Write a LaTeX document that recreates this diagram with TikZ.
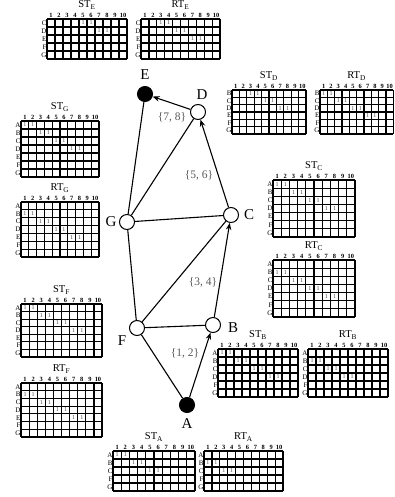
\documentclass[tikz,border=0pt]{standalone}
\usepackage{fontspec}
\setmainfont{Liberation Serif}
\usetikzlibrary{arrows.meta}
\tikzset{
 vtx/.style={circle, draw, line width=1pt, minimum size=15pt, inner sep=0pt, fill=white},
 vfill/.style={vtx, fill=black},
 vlab/.style={font=\fontsize{15}{15}\selectfont, inner sep=0pt},
 elab/.style={font=\fontsize{11.5}{11.5}\selectfont, text=black!65, inner sep=0pt},
 edge/.style={line width=1.1pt},
 arr/.style={edge, -{Stealth[length=7pt,width=5.5pt]}},
 tabtitle/.style={font=\fontsize{10.5}{10.5}\selectfont, inner sep=0pt},
 colnum/.style={font=\bfseries\fontsize{6.4}{6.4}\selectfont, inner sep=0pt},
 rowlab/.style={font=\fontsize{7}{7}\selectfont, inner sep=0pt, anchor=east},
 onemark/.style={font=\fontsize{6}{6}\selectfont, text=black!70, inner sep=0pt},
 gridline/.style={line width=1.2pt},
}
% #1 name, #2 left, #3 top, #4 right, #5 bottom, #6 rows, #7 row list, #8 title
\newcommand{\gridtab}[8]{%
  \pgfmathsetmacro\tcw{(#4-#2)/10}%
  \pgfmathsetmacro\tch{(#5-#3)/#6}%
  \node[tabtitle] (#1-title) at ({(#2+#4)/2},{#3-14}) {#8};
  \foreach \cc in {1,...,10} {\node[colnum] (#1-c\cc) at ({#2+(\cc-0.5)*\tcw},{#3-4}) {\cc};}
  \foreach \rr/\ss [count=\ii] in {#7} {
     \node[rowlab] (#1-r\ii) at ({#2-0.3},{#3+(\ii-0.5)*\tch}) {\rr};
     \ifnum\ss>0
       \node[onemark] (#1-m\ii-a) at ({#2+(\ss-0.5)*\tcw},{#3+(\ii-0.5)*\tch}) {1};
       \node[onemark] (#1-m\ii-b) at ({#2+(\ss+0.5)*\tcw},{#3+(\ii-0.5)*\tch}) {1};
     \fi
  }
  \foreach \cc in {0,...,10} {\draw[gridline] ({#2+\cc*\tcw},#3) -- ({#2+\cc*\tcw},#5);}
  \foreach \cc in {0,...,#6} {\draw[gridline] (#2,{#3+\cc*\tch}) -- (#4,{#3+\cc*\tch});}
}
\begin{document}
\begin{tikzpicture}[x=1pt,y=-1pt]
\useasboundingbox (0,0) rectangle (394,497);
% tables
\gridtab{STE}{47}{19}{127}{59}{5}{C/5,D/7,E/0,F/0,G/0}{ST\textsubscript{E}}
\gridtab{RTE}{141}{19}{220}{59}{5}{C/3,D/5,E/7,F/0,G/0}{RT\textsubscript{E}}
\gridtab{STD}{232}{90}{306}{134}{6}{B/3,C/5,D/7,E/0,F/0,G/0}{ST\textsubscript{D}}
\gridtab{RTD}{320}{90}{393.3}{134}{6}{B/1,C/3,D/5,E/7,F/0,G/0}{RT\textsubscript{D}}
\gridtab{STG}{21}{121}{99}{177}{7}{A/1,B/3,C/5,D/7,E/0,F/0,G/0}{ST\textsubscript{G}}
\gridtab{RTG}{21}{202}{99}{257}{7}{A/0,B/1,C/3,D/5,E/7,F/0,G/0}{RT\textsubscript{G}}
\gridtab{STC}{273}{180}{355}{237}{7}{A/1,B/3,C/5,D/7,E/0,F/0,G/0}{ST\textsubscript{C}}
\gridtab{RTC}{273}{260}{355}{317}{7}{A/0,B/1,C/3,D/5,E/7,F/0,G/0}{RT\textsubscript{C}}
\gridtab{STF}{21}{304}{102}{357}{7}{A/1,B/3,C/5,D/7,E/0,F/0,G/0}{ST\textsubscript{F}}
\gridtab{RTF}{21}{383}{102}{437}{7}{A/0,B/1,C/3,D/5,E/7,F/0,G/0}{RT\textsubscript{F}}
\gridtab{STB}{218}{349}{298}{397}{6}{A/1,B/3,C/5,D/7,F/0,G/0}{ST\textsubscript{B}}
\gridtab{RTB}{308}{349}{388}{397}{6}{A/0,B/1,C/3,D/5,F/0,G/0}{RT\textsubscript{B}}
\gridtab{STA}{113}{451}{195}{491}{5}{A/1,B/3,C/5,F/0,G/0}{ST\textsubscript{A}}
\gridtab{RTA}{204}{451}{283}{491}{5}{A/0,B/1,C/3,F/0,G/0}{RT\textsubscript{A}}
% vertices
\node[vfill] (E) at (145,94) {};
\node[vtx] (D) at (198,112) {};
\node[vtx] (G) at (127,222) {};
\node[vtx] (C) at (231,215) {};
\node[vtx] (F) at (137,328) {};
\node[vtx] (B) at (213,325) {};
\node[vfill] (A) at (187,405) {};
% vertex labels
\node[vlab] (lE) at (145,75) {E};
\node[vlab] (lD) at (202,95) {D};
\node[vlab] (lG) at (111,222) {G};
\node[vlab] (lC) at (249,215) {C};
\node[vlab] (lF) at (122,341) {F};
\node[vlab] (lB) at (233,328) {B};
\node[vlab] (lA) at (187,424) {A};
% edges
\draw[edge] (G) -- (E);
\draw[arr] (D) -- (E);
\draw[edge] (G) -- (D);
\draw[edge] (G) -- (C);
\draw[arr] (C) -- (D);
\draw[edge] (F) -- (G);
\draw[edge] (F) -- (C);
\draw[edge] (F) -- (B);
\draw[arr] (B) -- (C);
\draw[edge] (A) -- (F);
\draw[arr] (A) -- (B);
% edge labels
\node[elab] (l78) at (172,117) {\{7, 8\}};
\node[elab] (l56) at (199,175) {\{5, 6\}};
\node[elab] (l34) at (203,282) {\{3, 4\}};
\node[elab] (l12) at (185,353) {\{1, 2\}};
\end{tikzpicture}
\end{document}
